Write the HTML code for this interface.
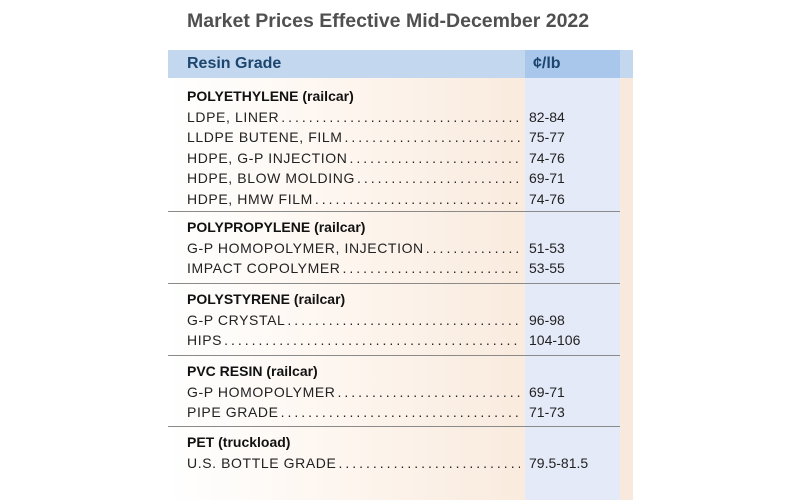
<!DOCTYPE html>
<html><head><meta charset="utf-8"><style>
body{margin:0;width:800px;height:500px;background:#fff;overflow:hidden;font-family:"Liberation Sans",sans-serif;position:relative}
#title{position:absolute;left:187px;top:10px;font-size:19.5px;font-weight:bold;color:#505050;letter-spacing:0}
#body{position:absolute;left:168px;top:78px;width:465px;height:422px;background:linear-gradient(90deg,#fff 0%,#fdf5ee 40%,#f9ebde 75%,#f8e9dc 100%)}
#pricecol{position:absolute;left:525px;top:78px;width:95px;height:422px;background:#e4eaf8}
#header{position:absolute;left:168px;top:50px;width:465px;height:28px;background:#c3d7ef}
#hdr-price{position:absolute;left:525px;top:50px;width:95px;height:28px;background:#a9c7ea}
#hdr-right{position:absolute;left:622px;top:50px;width:11px;height:28px;background:#c3d7ef}
.h{position:absolute;top:55px;font-size:16px;font-weight:bold;color:#1c4670}
.sec{position:absolute;left:187px;font-size:14px;font-weight:bold;color:#111}
.row{position:absolute;left:187px;width:333px;font-size:14px;color:#222;display:flex;white-space:nowrap;overflow:hidden;letter-spacing:0.6px}
.row .d{flex:1;overflow:hidden;letter-spacing:3px;padding-left:2px}
.p{position:absolute;left:529px;font-size:14px;color:#222}
.sep{position:absolute;left:168px;width:452px;height:1px;background:#8a8a8a}
</style></head><body>
<div id="title">Market Prices Effective Mid-December 2022</div>
<div id="body"></div>
<div id="pricecol"></div>
<div id="header"></div>
<div id="hdr-price"></div>
<div id="hdr-right"></div>
<div class="h" style="left:187px">Resin Grade</div>
<div class="h" style="left:533px">¢/lb</div>
<div id="rows"></div>
<script>
const sections=[
 {name:"POLYETHYLENE (railcar)",y:88,items:[["LDPE, LINER","82-84"],["LLDPE BUTENE, FILM","75-77"],["HDPE, G-P INJECTION","74-76"],["HDPE, BLOW MOLDING","69-71"],["HDPE, HMW FILM","74-76"]]},
 {name:"POLYPROPYLENE (railcar)",y:219,items:[["G-P HOMOPOLYMER, INJECTION","51-53"],["IMPACT COPOLYMER","53-55"]]},
 {name:"POLYSTYRENE (railcar)",y:291,items:[["G-P CRYSTAL","96-98"],["HIPS","104-106"]]},
 {name:"PVC RESIN (railcar)",y:363,items:[["G-P HOMOPOLYMER","69-71"],["PIPE GRADE","71-73"]]},
 {name:"PET (truckload)",y:434,items:[["U.S. BOTTLE GRADE","79.5-81.5"]]}
];
const root=document.getElementById('rows');
const dots=".".repeat(80);
sections.forEach((s,i)=>{
 if(i>0){const l=document.createElement('div');l.className='sep';l.style.top=(s.y-8)+'px';
 
 
 root.appendChild(l);}
 const h=document.createElement('div');h.className='sec';h.style.top=s.y+'px';h.textContent=s.name;
 
 
 root.appendChild(h);
 s.items.forEach((it,j)=>{
  const y=s.y+20.6*(j+1);
  const r=document.createElement('div');r.className='row';r.style.top=y+'px';
  
  
  const n=document.createElement('span');n.textContent=it[0];
  const d=document.createElement('span');d.className='d';d.textContent=dots;
  r.appendChild(n);r.appendChild(d);root.appendChild(r);
  const p=document.createElement('div');p.className='p';p.style.top=y+'px';p.textContent=it[1];
  
  
  root.appendChild(p);
 });
});
</script>
</body></html>
